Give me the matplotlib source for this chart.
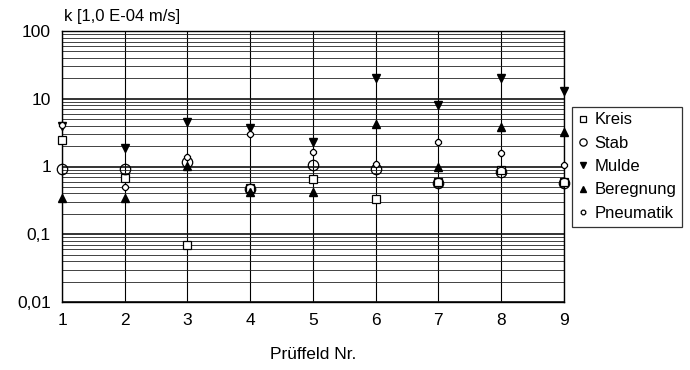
import matplotlib
matplotlib.use("Agg")
import matplotlib.pyplot as plt
from matplotlib.ticker import FixedLocator, LogLocator, NullFormatter

plt.rcParams["font.family"] = ["Liberation Sans", "DejaVu Sans"]

pruffeld = [1, 2, 3, 4, 5, 6, 7, 8, 9]

# k-Werte [1,0 E-04 m/s]
kreis = [2.46, 0.68, 0.069, 0.48, 0.65, 0.33, 0.60, 0.88, 0.60]
stab = [0.92, 0.93, 1.15, 0.47, 1.05, 0.93, 0.57, 0.83, 0.57]
mulde = [3.9, 1.88, 4.5, 3.7, 2.3, 20.5, 8.1, 20.5, 13.0]
beregnung = [0.34, 0.34, 1.02, 0.42, 0.42, 4.2, 1.0, 3.8, 3.2]
pneumatik = [4.1, 0.50, 1.38, 3.0, 1.64, 1.09, 2.3, 1.6, 1.05]

y_ticks = [0.01, 0.1, 1, 10, 100]
y_tick_labels = ["0,01", "0,1", "1", "10", "100"]

fig = plt.figure(figsize=(6.9, 3.7), dpi=100)
ax = fig.add_axes([0.0899, 0.184, 0.727, 0.732])

ax.set_yscale("log")
ax.set_xlim(1, 9)
ax.set_ylim(0.01, 100)

# Gitter: alle Dekaden mit Zwischenlinien, senkrechte Linien je Prüffeld
ax.yaxis.set_major_locator(FixedLocator(y_ticks))
ax.yaxis.set_minor_locator(LogLocator(base=10, subs=range(2, 10)))
ax.yaxis.set_minor_formatter(NullFormatter())
ax.set_yticklabels(y_tick_labels)
ax.set_xticks(pruffeld)
ax.grid(True, which="major", axis="y", color="#111111", linewidth=1.2)
ax.grid(True, which="minor", axis="y", color="#222222", linewidth=0.6)
ax.grid(True, which="major", axis="x", color="black", linewidth=0.8)
ax.tick_params(which="both", length=0, labelsize=12.5, pad=8)
ax.set_axisbelow(True)
for side in ["left", "bottom", "right", "top"]:
    ax.spines[side].set_linewidth(1.0)

ax.plot(pruffeld, kreis, "s", ms=6, mfc="white", mec="black", mew=0.9,
        ls="none", label="Kreis", clip_on=False, zorder=3)
ax.plot(pruffeld, stab, "o", ms=7.5, mfc="none", mec="black", mew=0.9,
        ls="none", label="Stab", clip_on=False, zorder=3)
ax.plot(pruffeld, mulde, "v", ms=6, color="black",
        ls="none", label="Mulde", clip_on=False, zorder=3)
ax.plot(pruffeld, beregnung, "^", ms=6, color="black",
        ls="none", label="Beregnung", clip_on=False, zorder=3)
ax.plot(pruffeld, pneumatik, "8", ms=5, mfc="white", mec="black", mew=0.9,
        ls="none", label="Pneumatik", clip_on=False, zorder=3)

fig.text(0.093, 0.955, "k [1,0 E-04 m/s]", fontsize=12, va="center", ha="left")
ax.set_xlabel("Prüffeld Nr.", fontsize=12.5, labelpad=14)

leg = ax.legend(loc="center left", bbox_to_anchor=(1.017, 0.5), fontsize=12,
                frameon=True, fancybox=False, edgecolor="black",
                handlelength=0.6, handletextpad=0.4, borderpad=0.35,
                borderaxespad=0.0, labelspacing=0.5, markerscale=0.7)
leg.get_frame().set_linewidth(0.9)

fig.savefig("out.png", dpi=100)
